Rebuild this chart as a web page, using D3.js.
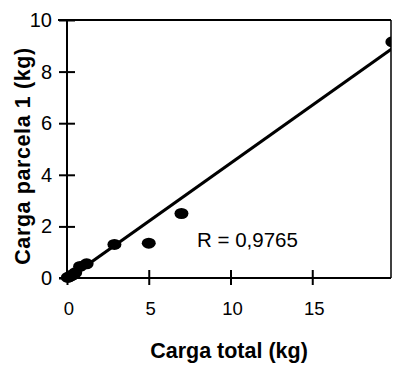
<!DOCTYPE html>
<html><head><meta charset="utf-8">
<script src="https://cdn.jsdelivr.net/npm/d3@7"></script>
<style>body{margin:0;background:#fff}svg{display:block}</style>
</head><body><div id="c"></div>
<script>
const xTicks = [0, 5, 10, 15];
const yTicks = [0, 2, 4, 6, 8, 10];
const xValues = [0.05, 0.15, 0.3, 0.5, 0.8, 1.2, 2.9, 5.0, 7.0, 19.9];
const yValues = [0.02, 0.05, 0.1, 0.2, 0.45, 0.55, 1.3, 1.35, 2.5, 9.15];
const fitLine = [[0.2, 0.04], [19.9, 8.9]];
const xTitle = "Carga total (kg)";
const yTitle = "Carga parcela 1 (kg)";
const rLabel = "R = 0,9765";

const W = 393, H = 366;
const svg = d3.select("#c").append("svg").attr("width", W).attr("height", H);
const x = d3.scaleLinear().domain([0, 20]).range([67, 394]);
const y = d3.scaleLinear().domain([0, 10]).range([278, 20]);
const font = "'Liberation Sans', Arial, Helvetica, sans-serif";

const defs = svg.append("defs");
defs.append("clipPath").attr("id", "clip").append("rect")
  .attr("x", 0).attr("y", 0).attr("width", 391).attr("height", H);

// frame
svg.append("line").attr("x1", 58).attr("x2", 391).attr("y1", y(10)).attr("y2", y(10))
  .attr("stroke", "#000").attr("stroke-width", 2);
svg.append("line").attr("x1", 391).attr("x2", 391).attr("y1", y(10)).attr("y2", y(0))
  .attr("stroke", "#000").attr("stroke-width", 1.5);

// axes
const xAxis = d3.axisBottom(x).tickValues(xTicks).tickSize(0).tickPadding(24);
const gx = svg.append("g").attr("transform", `translate(0,${y(0)})`).call(xAxis);
gx.select(".domain").attr("d", `M59,0H391`).attr("stroke-width", 2);
gx.selectAll(".tick").append("line").attr("y1", -8).attr("y2", 7).attr("stroke", "#000").attr("stroke-width", 2);
gx.selectAll(".tick text").attr("font-family", font).attr("font-size", 18.5).attr("fill", "#000").attr("dx", 1.5);

const yAxis = d3.axisLeft(y).tickValues(yTicks).tickSize(0).tickPadding(15);
const gy = svg.append("g").attr("transform", `translate(${x(0)},0)`).call(yAxis);
gy.select(".domain").attr("d", `M0,${y(10)}V${y(0)}`).attr("stroke-width", 2);
gy.selectAll(".tick").append("line").attr("x1", -8).attr("x2", 8).attr("stroke", "#000").attr("stroke-width", 2);
gy.selectAll(".tick text").attr("font-family", font).attr("font-size", 20).attr("fill", "#000");

const g = svg.append("g").attr("clip-path", "url(#clip)");
// fit line
g.append("line")
  .attr("x1", x(fitLine[0][0])).attr("y1", y(fitLine[0][1]))
  .attr("x2", x(fitLine[1][0])).attr("y2", y(fitLine[1][1]))
  .attr("stroke", "#000").attr("stroke-width", 3.2);
// points
g.selectAll("ellipse").data(xValues.map((v, i) => [v, yValues[i]])).enter().append("ellipse")
  .attr("cx", d => x(d[0])).attr("cy", d => y(d[1]))
  .attr("rx", 7).attr("ry", 5.5).attr("fill", "#000");

// labels
svg.append("text").attr("x", 197).attr("y", 247)
  .attr("font-family", font).attr("font-size", 20.5).text(rLabel);
svg.append("text").attr("x", 229).attr("y", 358).attr("text-anchor", "middle")
  .attr("font-family", font).attr("font-size", 21.5).attr("font-weight", "bold").text(xTitle);
svg.append("text").attr("transform", "translate(30,156) rotate(-90)").attr("text-anchor", "middle")
  .attr("font-family", font).attr("font-size", 21.5).attr("letter-spacing", 0.6)
  .attr("font-weight", "bold").text(yTitle);
</script></body></html>
